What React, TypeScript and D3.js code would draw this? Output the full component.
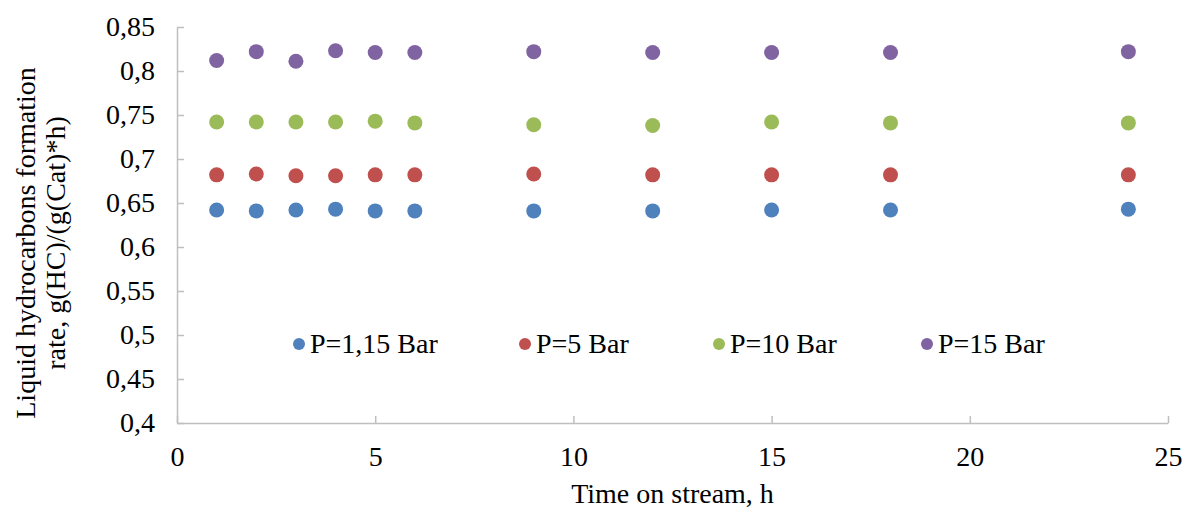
import React, { useEffect, useRef } from 'react';
import * as d3 from 'd3';

const hours = [1, 2, 3, 4, 5, 6, 9, 12, 15, 18, 24];

const p115 = [0.642, 0.641, 0.642, 0.643, 0.641, 0.641, 0.641, 0.641, 0.642, 0.642, 0.643];
const p5 = [0.682, 0.683, 0.681, 0.681, 0.682, 0.682, 0.683, 0.682, 0.682, 0.682, 0.682];
const p10 = [0.742, 0.742, 0.742, 0.742, 0.743, 0.741, 0.739, 0.738, 0.742, 0.741, 0.741];
const p15 = [0.812, 0.822, 0.811, 0.823, 0.821, 0.821, 0.822, 0.821, 0.821, 0.821, 0.822];

const seriesNames = ['P=1,15 Bar', 'P=5 Bar', 'P=10 Bar', 'P=15 Bar'];
const seriesColors = ['#4F81BD', '#C0504D', '#9BBB59', '#8064A2'];
const xTicks = [0, 5, 10, 15, 20, 25];
const yTicks = [0.4, 0.45, 0.5, 0.55, 0.6, 0.65, 0.7, 0.75, 0.8, 0.85];

const App = () => {
  const svgRef = useRef<SVGSVGElement>(null);

  useEffect(() => {
    document.body.style.margin = '0';
    const W = 1186;
    const H = 508;
    const margin = { top: 27, right: 18, bottom: 85, left: 177 };
    const width = W - margin.left - margin.right;
    const height = H - margin.top - margin.bottom;
    const font = '"Liberation Serif", "Times New Roman", serif';

    const svg = d3
      .select(svgRef.current)
      .attr('width', W)
      .attr('height', H)
      .style('font-family', font);
    svg.selectAll('*').remove();

    const g = svg.append('g').attr('transform', `translate(${margin.left},${margin.top})`);

    const x = d3.scaleLinear().domain([0, 25]).range([0, width]);
    const y = d3.scaleLinear().domain([0.4, 0.85]).range([height, 0]);

    // X axis, ticks pointing inside
    const xAxis = g
      .append('g')
      .attr('transform', `translate(0,${height})`)
      .call(d3.axisBottom(x).tickValues(xTicks).tickSizeInner(-7).tickSizeOuter(0).tickPadding(23));
    xAxis.attr('font-family', null);
    xAxis.select('.domain').attr('stroke', '#BFBFBF').attr('stroke-width', 1.5);
    xAxis.selectAll('line').attr('stroke', '#BFBFBF').attr('stroke-width', 1.5);
    xAxis.selectAll('text').style('font-family', font).attr('font-size', 28).attr('fill', '#000');

    // Y axis, ticks pointing inside
    const yAxis = g
      .append('g')
      .call(
        d3
          .axisLeft(y)
          .tickValues(yTicks)
          .tickSizeInner(-7)
          .tickSizeOuter(0)
          .tickPadding(22)
          .tickFormat((d) => String(+(d as number).toFixed(2)).replace('.', ','))
      );
    yAxis.attr('font-family', null);
    yAxis.select('.domain').attr('stroke', '#BFBFBF').attr('stroke-width', 1.5);
    yAxis.selectAll('line').attr('stroke', '#BFBFBF').attr('stroke-width', 1.5);
    yAxis.selectAll('text').style('font-family', font).attr('font-size', 28).attr('fill', '#000');

    // Points
    const allSeries = [p115, p5, p10, p15];
    allSeries.forEach((vals, i) => {
      g.append('g')
        .selectAll('circle')
        .data(vals)
        .join('circle')
        .attr('cx', (_d, j) => x(hours[j]))
        .attr('cy', (d) => y(d))
        .attr('r', 7.5)
        .attr('fill', seriesColors[i]);
    });

    // Legend inside the plot area
    const legendX = [299, 525, 719, 927];
    const legend = svg.append('g');
    seriesNames.forEach((name, i) => {
      legend
        .append('circle')
        .attr('cx', legendX[i])
        .attr('cy', 344)
        .attr('r', 6)
        .attr('fill', seriesColors[i]);
      legend
        .append('text')
        .attr('x', legendX[i] + 11)
        .attr('y', 353)
        .style('font-family', font)
        .attr('font-size', 28)
        .attr('fill', '#000')
        .text(name);
    });

    // Axis titles
    svg
      .append('text')
      .attr('x', margin.left + width / 2)
      .attr('y', 503)
      .attr('text-anchor', 'middle')
      .style('font-family', font)
      .attr('font-size', 28)
      .attr('fill', '#000')
      .text('Time on stream, h');

    const yTitle = svg
      .append('text')
      .attr('transform', 'translate(0,243) rotate(-90)')
      .attr('text-anchor', 'middle')
      .style('font-family', font)
      .attr('font-size', 28)
      .attr('fill', '#000');
    yTitle.append('tspan').attr('x', 0).attr('y', 35).text('Liquid hydrocarbons formation');
    yTitle.append('tspan').attr('x', 0).attr('y', 65).text('rate, g(HC)/(g(Cat)*h)');
  }, []);

  return <svg ref={svgRef} style={{ display: 'block' }}></svg>;
};

export default App;
